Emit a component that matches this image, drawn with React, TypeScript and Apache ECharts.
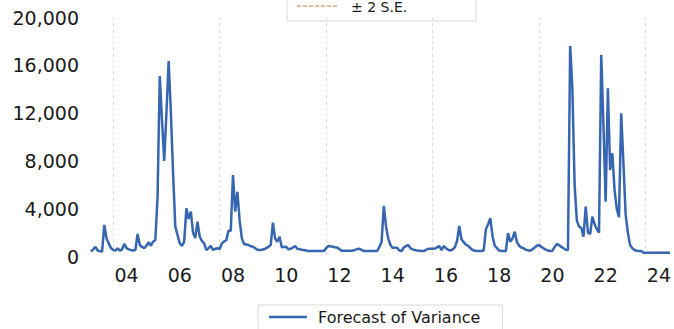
import React, { useEffect, useRef } from "react";
import * as echarts from "echarts";

// Monthly forecast of variance, starting March 2003
const startYear = 2003;
const startMonth = 3;

const forecastVariance: number[] = [
  400, 600, 800, 500, 450, 400, 2640, 1500, 1100, 700,
  550, 490, 680, 490, 600, 1050, 700, 600, 540, 500,
  540, 1880, 960, 800, 700, 900, 1190, 900, 1240, 1380,
  5000, 15100, 11400, 8000, 12000, 16360, 12000, 7000, 2500, 1800,
  1100, 880, 1240, 4030, 3140, 3750, 2000, 1550, 2910, 1660,
  1300, 1100, 540, 700, 900, 540, 650, 690, 630, 1100,
  1250, 1380, 2160, 2160, 6820, 3750, 5420, 3000, 1520, 1050,
  1000, 960, 850, 820, 700, 560, 540, 560, 600, 700,
  820, 960, 2830, 1500, 1240, 1660, 770, 800, 820, 600,
  650, 750, 880, 650, 600, 560, 540, 500, 460, 460,
  460, 460, 460, 460, 460, 460, 700, 880, 850, 820,
  780, 750, 600, 490, 480, 480, 480, 480, 500, 550,
  620, 650, 550, 460, 460, 460, 460, 460, 460, 460,
  800, 1240, 4230, 2500, 1500, 960, 700, 760, 720, 500,
  460, 750, 880, 960, 700, 600, 540, 500, 490, 470,
  460, 550, 650, 650, 650, 660, 760, 880, 540, 880,
  700, 560, 490, 600, 770, 1300, 2550, 1440, 1200, 1000,
  900, 700, 540, 480, 460, 460, 460, 500, 2270, 2700,
  3200, 1700, 900, 700, 500, 460, 460, 460, 1950, 1240,
  1500, 2080, 1200, 900, 750, 690, 560, 520, 490, 600,
  750, 900, 960, 800, 690, 580, 500, 460, 490, 800,
  1050, 960, 800, 690, 560, 540, 17620, 14000, 6000, 3000,
  2500, 2400, 1660, 4170, 2000, 1880, 3330, 2700, 2300, 1990,
  16870, 11000, 4590, 14080, 7240, 8640, 5570, 4000, 3280, 11990,
  7800, 3500, 2000, 960, 700, 540, 480, 460, 460, 320,
  320, 320, 320, 320, 320, 320, 320, 320, 320, 320,
  320, 320,
];

const months: string[] = forecastVariance.map((_, i) => {
  const m = startMonth - 1 + i;
  const y = startYear + Math.floor(m / 12);
  return `${y}-${String((m % 12) + 1).padStart(2, "0")}`;
});

const yTicks = { min: 0, max: 20000, interval: 4000 };
const seriesName = "Forecast of Variance";
const seLabel = "± 2 S.E.";

const FONT = "DejaVu Sans";
const LINE_COLOR = "#3766b1";

export default function App() {
  const ref = useRef<HTMLDivElement>(null);

  useEffect(() => {
    if (!ref.current) return;
    const chart = echarts.init(ref.current, undefined, { renderer: "svg" });
    chart.setOption({
      animation: false,
      backgroundColor: "#ffffff",
      grid: { left: 91, right: 0, top: 17.5, bottom: 72.5, containLabel: false },
      xAxis: {
        type: "category",
        data: months,
        boundaryGap: false,
        axisLine: { show: false },
        axisTick: { show: false },
        axisLabel: {
          interval: (_i: number, v: string) =>
            v.endsWith("-07") && parseInt(v.slice(0, 4), 10) % 2 === 0,
          formatter: (v: string) => v.slice(2, 4),
          fontFamily: FONT,
          fontSize: 19,
          color: "#1a1a1a",
          margin: 9,
        },
        splitLine: {
          show: true,
          interval: (_i: number, v: string) =>
            v.endsWith("-01") && parseInt(v.slice(0, 4), 10) % 4 === 0,
          lineStyle: { color: "#d9d9d9", type: [3, 3], width: 1 },
        },
      },
      yAxis: {
        type: "value",
        min: yTicks.min,
        max: yTicks.max,
        interval: yTicks.interval,
        axisLine: { show: false },
        axisTick: { show: false },
        splitLine: { show: false },
        axisLabel: {
          formatter: (v: number) => v.toLocaleString("en-US"),
          fontFamily: FONT,
          fontSize: 19,
          color: "#1a1a1a",
          margin: 12,
        },
      },
      legend: {
        data: [{ name: seriesName, icon: "rect" }],
        left: 258,
        top: 305,
        itemWidth: 38,
        itemHeight: 2.5,
        padding: [4, 22, 12, 11],
        borderColor: "#d9d9d9",
        borderWidth: 1,
        backgroundColor: "#ffffff",
        itemStyle: { color: LINE_COLOR },
        textStyle: {
          fontFamily: FONT,
          fontSize: 16,
          color: "#1a1a1a",
          padding: [0, 0, 0, 6],
        },
      },
      graphic: [
        {
          type: "group",
          z: 100,
          children: [
            {
              type: "rect",
              shape: { x: 287, y: -20, width: 189, height: 41 },
              style: { fill: "#ffffff", stroke: "#d9d9d9", lineWidth: 1 },
            },
            {
              type: "line",
              shape: { x1: 297, y1: 6, x2: 339, y2: 6 },
              style: { stroke: "#f0a46e", lineWidth: 1.5, lineDash: [4, 2] },
            },
            {
              type: "text",
              x: 351,
              y: 7,
              style: {
                text: seLabel,
                fontFamily: FONT,
                fontSize: 14,
                lineHeight: 14,
                fill: "#1a1a1a",
                verticalAlign: "middle",
                align: "left",
              },
            },
          ],
        },
      ],
      series: [
        {
          name: seriesName,
          type: "line",
          data: forecastVariance,
          symbol: "none",
          showSymbol: false,
          lineStyle: { color: LINE_COLOR, width: 2.5 },
          itemStyle: { color: LINE_COLOR },
        },
      ],
    });
    return () => chart.dispose();
  }, []);

  return (
    <div
      ref={ref}
      style={{ position: "fixed", left: 0, top: 0, width: 674, height: 329 }}
    />
  );
}
